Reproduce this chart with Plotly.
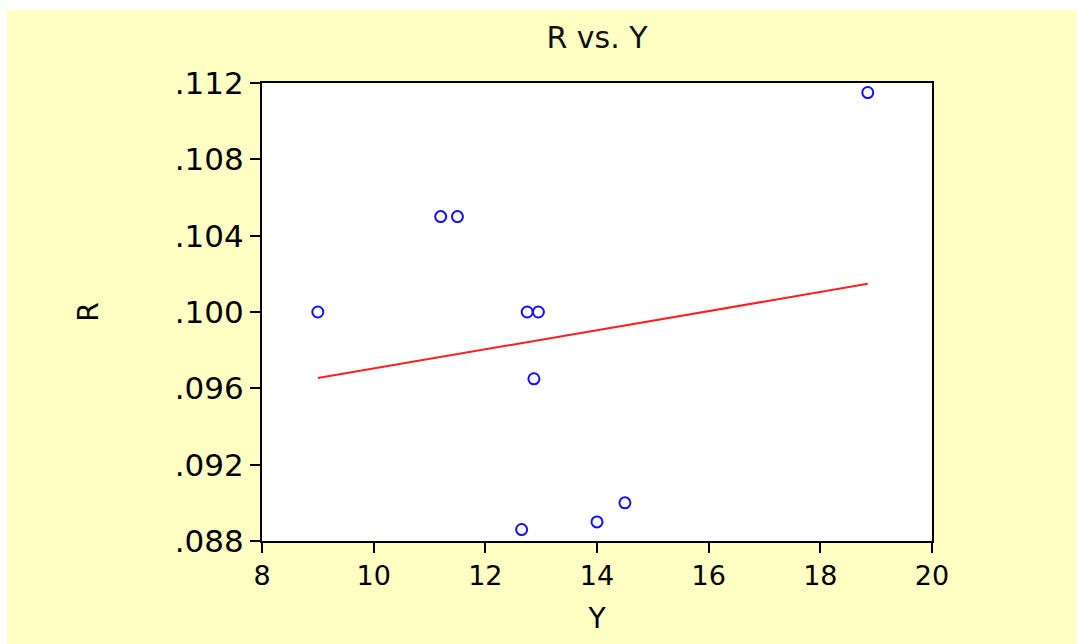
import numpy as np
import plotly.graph_objects as go

# Observations of Y (horizontal) and R (vertical)
y_values = [9.0, 11.2, 11.5, 12.75, 12.95, 12.87, 12.65, 14.0, 14.5, 18.85]
r_values = [0.1000, 0.1050, 0.1050, 0.1000, 0.1000, 0.0965, 0.0886, 0.0890, 0.0900, 0.1115]

x_ticks = [8, 10, 12, 14, 16, 18, 20]
r_ticks = [0.088, 0.092, 0.096, 0.100, 0.104, 0.108, 0.112]
r_tick_labels = [".088", ".092", ".096", ".100", ".104", ".108", ".112"]

# Least-squares fit of R on Y, drawn over the observed span of Y
slope, intercept = np.polyfit(y_values, r_values, 1)
fit_x = [min(y_values), max(y_values)]
fit_y = [intercept + slope * v for v in fit_x]

BG = "#FFFFC4"
FONT = "DejaVu Sans, Arial, sans-serif"

fig = go.Figure()
fig.add_trace(go.Scatter(
    x=fit_x, y=fit_y, mode="lines",
    line=dict(color="#FF2020", width=2),
    showlegend=False, hoverinfo="skip",
))
fig.add_trace(go.Scatter(
    x=y_values, y=r_values, mode="markers",
    marker=dict(symbol="circle-open", size=11, color="#1010FF",
                line=dict(width=2, color="#1010FF")),
    showlegend=False,
))

W, H = 1077, 644
L, R, T, B = 262, 145, 83, 103
pw, ph = W - L - R, H - T - B

def px_x(px):
    return (px - L) / pw

def px_y(py):
    return (H - B - py) / ph

fig.update_layout(
    width=W, height=H,
    margin=dict(l=L, r=R, t=T, b=B, pad=0),
    paper_bgcolor=BG, plot_bgcolor="white",
    font=dict(family=FONT, color="black", size=26),
    title=dict(text="R vs. Y", x=0.5, xref="paper", xanchor="center",
               y=1 - 37 / H, yanchor="middle",
               font=dict(size=30, family=FONT, color="#111")),
    xaxis=dict(
        range=[8, 20], tickvals=x_ticks, ticks="outside", ticklen=10,
        tickwidth=2, tickcolor="black", showline=True, linewidth=2,
        linecolor="black", mirror=True, showgrid=False, zeroline=False,
        tickfont=dict(size=27),
        title=dict(text="Y", font=dict(size=28), standoff=18),
    ),
    yaxis=dict(
        range=[0.088, 0.112], tickvals=r_ticks, ticktext=r_tick_labels,
        ticks="outside", ticklen=10, tickwidth=2, tickcolor="black",
        showline=True, linewidth=2, linecolor="black", mirror=True,
        showgrid=False, zeroline=False, tickfont=dict(size=31),
        title=dict(text="R", font=dict(size=28), standoff=68),
    ),
    shapes=[
        # thin white strips along the top and left edges of the canvas
        dict(type="rect", xref="paper", yref="paper", layer="below",
             x0=px_x(0), x1=px_x(W), y0=px_y(10), y1=px_y(0),
             fillcolor="white", line=dict(width=0)),
        dict(type="rect", xref="paper", yref="paper", layer="below",
             x0=px_x(0), x1=px_x(7), y0=px_y(H), y1=px_y(0),
             fillcolor="white", line=dict(width=0)),
    ],
)

fig.write_html("out.html")
